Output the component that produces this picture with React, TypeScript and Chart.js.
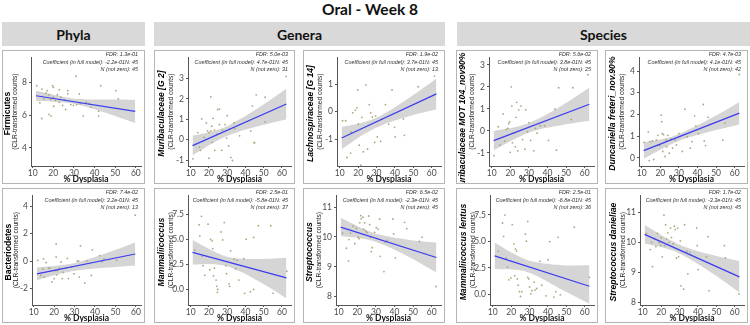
import React, { useEffect, useRef } from 'react';
import { Chart, registerables } from 'chart.js';
Chart.register(...registerables);

const SANS = '"Liberation Sans", Arial, sans-serif';
const CAL = 'Lato, "Open Sans", sans-serif';

const xTickLabels = ['10', '20', '30', '40', '50', '60'];

// ---- Phyla: Firmicutes
const firmX = [12, 14.5, 13.5, 14.4, 15.5, 16.5, 17, 18, 18.9, 19.7, 20, 20, 20.2, 18, 18.9, 21, 22, 22.9, 22.9, 23.7, 24.5, 25.3, 27, 27, 26, 28.5, 29.8, 31, 31.3, 32.6, 33, 34.5, 36, 37.4, 38.2, 42, 43, 42, 50.3, 51.5];
const firmY = [7.8, 7.6, 6.75, 5.8, 7.0, 7.35, 7.5, 7.25, 6.95, 7.8, 7.7, 7.1, 6.55, 6.05, 5.95, 6.9, 7.25, 7.55, 6.8, 7.1, 6.6, 6.95, 7.5, 7.3, 6.35, 6.65, 6.6, 8.38, 6.65, 7.3, 6.7, 5.95, 6.8, 6.7, 6.5, 6.25, 7.8, 5.95, 7.5, 7.0];
const firmLine = [7.19, 6.24];
const firmUp = [7.49, 7.15, 6.99, 6.96, 6.95];
const firmLo = [6.89, 6.79, 6.61, 6.08, 5.53];
const firmTicks = ['4', '6', '8'];

// ---- Phyla: Bacteriodetes
const bactX = [12, 13.5, 14.5, 14.8, 16.1, 15.2, 17.3, 18, 18.9, 20, 20.5, 21, 21, 21.3, 21.6, 22.6, 23.4, 24, 24.5, 25.8, 26.5, 27, 28.5, 29.7, 31.3, 32, 32.9, 32.3, 35, 36, 38.2, 38.7, 42.3, 43.4, 44.4, 50.6, 59.7];
const bactY = [0.05, -1.05, -0.58, 0.16, -0.12, -1.17, -0.51, -0.51, -1.52, -1.28, -0.7, 1.24, 0.3, -1.0, -0.7, -0.51, -0.07, -1.28, -0.82, -0.51, 0.19, -1.28, -0.42, -0.93, 0, 0, 1.1, -1.17, -1.59, 0, -1.05, 0.82, 0.4, -0.05, 0.16, 0.05, 3.34];
const bactLine = [-0.93, 0.51];
const bactUp = [-0.47, -0.29, -0.03, 0.65, 1.35];
const bactLo = [-1.4, -0.89, -0.65, -0.47, -0.33];
const bactTicks = ['-2', '0', '2', '4'];

// ---- Genera: Muribaculaceae [G 2]
const muriX = [11.2, 13.9, 14.8, 15.3, 16, 17.4, 18.6, 19.2, 20, 20, 21, 21, 21.5, 21.8, 22.3, 23, 23.2, 24.4, 24.8, 25.7, 25.8, 27, 27.4, 28.8, 29.7, 30, 30.8, 32, 32.9, 33.8, 34.1, 36.8, 42.9, 43.8, 44.7, 45, 45.9, 50.8, 50.8, 62.3];
const muriY = [-0.94, 0.35, -0.36, -0.52, 1.02, 0.11, 0.82, 0.43, -0.91, 0.35, 0.43, 2.11, 0.66, -0.13, 1.05, 0.47, -0.52, 0.27, 1.48, 0.74, 1.5, -0.52, 0.47, 0.74, 0.08, 1.18, -0.31, -0.87, -1.02, 0.82, 0.55, 0.19, 0.43, 1.65, -0.13, -0.16, 2.2, 0.87, 2.08, 3.1];
const muriLine = [-0.29, 1.75];
const muriUp = [0.19, 0.46, 0.81, 1.62, 2.5];
const muriLo = [-0.77, -0.08, 0.29, 0.68, 1.0];
const muriTicks = ['-1', '0', '1', '2', '3'];

// ---- Genera: Lachnospiraceae [G 14]
const lachX = [11.5, 13.2, 13.9, 15.9, 16.2, 17.1, 18.5, 19.4, 19.8, 20.1, 20.6, 21.5, 22, 22.8, 24.2, 25.1, 26, 26.8, 27.7, 29, 29.5, 30.4, 32.2, 33, 34.8, 36.6, 38.4, 39.8, 40.1, 44.6, 45.1, 52.6, 61.4];
const lachY = [-0.33, -0.33, -1.67, -1.51, -0.75, -0.04, 0.06, 0.14, 0.79, -0.45, -1.22, -1.95, -0.21, -1.46, 0.97, -1.36, 0.26, -0.04, -0.19, -1.12, -0.15, -0.92, -1.08, -0.27, 0.26, -0.45, 0.79, -0.57, -0.92, -0.27, -0.86, 0.91, 1.3];
const lachLine = [-0.96, 0.65];
const lachUp = [-0.56, -0.37, -0.11, 0.52, 1.21];
const lachLo = [-1.37, -0.79, -0.49, -0.16, 0.09];
const lachTicks = ['-1', '0', '1'];

// ---- Species: Muribaculaceae MOT 104_nov90%
const motX = [11.2, 13.5, 14.4, 16.1, 17, 17.8, 18.7, 19.1, 19.6, 19.9, 20.5, 20.8, 21.1, 21.7, 22.7, 23.1, 23.4, 24, 24.5, 25.7, 26.6, 27.8, 28.3, 29.2, 30, 30.9, 32.6, 33.5, 34.4, 36.1, 38.4, 40.5, 44, 44.8, 46, 53.6, 52.7, 61.7];
const motY = [-1.12, 0.19, -0.64, 0.77, -0.46, 0.07, 0.12, 0.33, 0.41, -0.97, 2.0, 1.13, -0.54, -0.1, -0.72, 0.62, 1.3, -0.9, 0.96, 1.13, -0.39, -0.83, 0.96, -0.03, 0.38, -0.43, -0.9, 0.12, -0.1, 0.23, 0.23, -0.43, 0.99, -0.87, 1.96, 1.96, 0.52, 2.55];
const motLine = [-0.44, 1.21];
const motUp = [0.0, 0.2, 0.47, 1.17, 1.96];
const motLo = [-0.88, -0.3, 0.01, 0.27, 0.46];
const motTicks = ['-1', '0', '1', '2', '3'];

// ---- Species: Duncaniella freteri_nov.90%
const duncX = [11.2, 13.5, 14.4, 15.7, 14, 16.4, 17.8, 18.7, 19.6, 20.5, 20.8, 21, 21.3, 21.7, 22.5, 23.1, 23.4, 24, 24.8, 25.7, 26.6, 28, 28.6, 30, 31.8, 33.2, 34.4, 36.1, 37, 38.4, 39.1, 40.5, 43.1, 43.6, 44.3, 45.7, 53.6, 54.8, 62.5];
const duncY = [0.72, 1.19, 0.75, 0.78, -0.12, -0.07, 0.82, 1.04, 0.57, 1.97, 1.67, 1.12, 0.3, 1.07, 0.07, 0.82, 0.52, 1.04, 0.22, 0.87, 0.45, 0.82, 0.6, 1.12, 0.3, 2.24, 0.97, 0.45, 0.75, 1.94, 1.46, 1.12, 2.46, 0.78, 0.57, 1.87, 0.82, 1.6, 3.84];
const duncLine = [0.34, 2.06];
const duncUp = [0.72, 0.93, 1.22, 1.86, 2.58];
const duncLo = [-0.04, 0.55, 0.88, 1.24, 1.54];
const duncTicks = ['0', '1', '2', '3', '4'];

// ---- Genera: Mammaliicoccus
const mammX = [12.3, 14.6, 15, 15.9, 16.3, 16.8, 17.7, 19.5, 20.4, 20.9, 21.8, 22.1, 22.5, 23, 23.9, 24.3, 24.8, 24.6, 26.6, 27.5, 28.4, 29.3, 29.6, 31, 31.4, 31.9, 33.8, 34.6, 35.5, 36.4, 39.1, 39.6, 40.4, 42.7, 44.5, 44.5, 47.1, 53.9, 55.2, 62.7];
const mammY = [3.95, 6.46, 5.33, 7.3, 3.32, 2.38, 1.41, 6.52, 1.97, 5.0, 4.86, 4.08, 1.35, 2.13, 0.94, 0.31, 0.0, -0.28, 5.74, 4.95, 6.68, 2.38, 1.57, 0.56, 0.31, 3.86, 3.01, 2.07, 2.92, 0.94, 3.07, -0.38, 5.02, -0.22, 0.0, 5.2, 6.36, 6.36, -0.38, 1.82];
const mammLine = [3.7, 1.15];
const mammUp = [4.93, 3.7, 3.17, 3.05, 3.17];
const mammLo = [2.47, 2.5, 2.13, 0.75, -0.87];
const mammTicks = ['0.0', '2.5', '5.0', '7.5'];

// ---- Genera: Streptococcus
const streX = [12, 14.1, 15.2, 15.5, 16.3, 17.7, 18.6, 19.5, 20.4, 20.9, 21.3, 21.8, 22.1, 23, 23.4, 23.9, 24.5, 25.2, 26.1, 26.6, 27.1, 27.5, 28, 29.3, 30.2, 31.1, 32, 32.3, 34.3, 35, 36.1, 39.1, 39.5, 40.5, 45.4, 46.6, 53.4, 54.8, 62.3];
const streY = [10.13, 9.62, 9.19, 9.91, 10.13, 10.36, 9.78, 10.29, 9.99, 9.94, 10.47, 10.71, 10.61, 10.66, 10.26, 10.47, 10.2, 10.15, 10.7, 10.41, 9.99, 9.51, 9.64, 10.15, 10.31, 10.26, 10.6, 9.35, 8.84, 9.83, 9.88, 10.6, 10.1, 9.3, 10.49, 10.28, 9.85, 9.99, 8.34];
const streLine = [10.33, 9.31];
const streUp = [10.64, 10.25, 10.06, 9.9, 9.81];
const streLo = [10.03, 9.93, 9.76, 9.32, 8.81];
const streTicks = ['8', '9', '10', '11'];

// ---- Species: Mammaliicoccus lentus
const lentX = [13, 15.3, 15.9, 16.6, 17.3, 18, 18.7, 19.8, 20.6, 21.5, 21.9, 22.4, 22.9, 23.3, 23.8, 24.5, 25.1, 25.9, 27.7, 28.3, 29, 29, 29.5, 30, 30.7, 31.3, 32.5, 33, 33.9, 35.7, 36.6, 38.9, 40.1, 41, 43.2, 44.2, 45.5, 46.7, 54.3, 62.5];
const lentY = [4.08, 6.74, 5.47, 7.49, 3.41, 2.57, 1.36, 1.54, 6.59, 4.77, 1.75, 4.26, 4.08, 1.45, 0.85, 0.24, -0.21, 0.24, 5.68, 5.02, 6.89, 1.6, 1.45, 0.69, 0.03, 0.33, 1.15, 0.39, 0.54, 3.11, 0.85, -0.15, 3.26, 4.98, -0.27, 0.24, 5.38, -0.06, 6.34, 1.6];
const lentLine = [3.63, 0.75];
const lentUp = [4.89, 3.59, 3.04, 2.75, 2.75];
const lentLo = [2.38, 2.29, 1.8, 0.4, -0.9];
const lentTicks = ['0.0', '2.5', '5.0', '7.5'];

// ---- Species: Streptococcus danieliae
const daniX = [12, 14.1, 14.8, 15.3, 16.2, 17.1, 18, 18.9, 19.8, 20.1, 20.6, 21.5, 21.9, 22.4, 22.9, 23.6, 24.2, 25.1, 25.6, 26.5, 27.2, 27.7, 28.3, 29, 29.5, 30.4, 30.7, 32.2, 32.7, 33.9, 34.5, 35.7, 39.3, 39.6, 40.1, 44.6, 45.5, 46, 54.3, 54.9, 62.3];
const daniY = [10.3, 9.76, 10.0, 9.19, 10.13, 9.86, 10.3, 10.0, 9.91, 10.16, 9.52, 10.91, 9.89, 10.59, 10.11, 10.32, 10.0, 10.48, 10.16, 9.95, 10.54, 10.43, 9.48, 10.48, 9.52, 10.05, 8.55, 8.44, 10.59, 9.7, 8.95, 9.66, 10.48, 9.89, 9.09, 9.52, 10.19, 8.39, 9.89, 9.48, 8.28];
const daniLine = [10.27, 8.85];
const daniUp = [10.58, 10.11, 9.85, 9.58, 9.38];
const daniLo = [9.96, 9.77, 9.53, 8.96, 8.33];
const daniTicks = ['8', '9', '10', '11'];

const phylaLineX = [11.6, 59.7];
const phylaBandX = [11.6, 24, 33, 47, 59.7];
const otherLineX = [11, 62.5];
const otherBandX = [11, 24, 33, 48, 62.5];

type PanelDef = {
  col: number; row: number; axisLeft: number; titleShift?: number;
  title: string; italic: boolean; notes: string[];
  xs: number[]; ys: number[]; lineX: number[]; lineY: number[];
  bandX: number[]; up: number[]; lo: number[];
  yTicks: string[]; yMin: number; yMax: number; xMin: number; xMax: number;
};

const COLS = [
  { x: 2, w: 143 }, { x: 154, w: 141 }, { x: 303, w: 142 }, { x: 456, w: 142 }, { x: 605, w: 143 },
];
const ROWS = [{ y: 50, h: 134 }, { y: 188, h: 135 }];

const note = (fdr: string, coef: string, nz: string) => [
  'FDR: ' + fdr,
  'Coefficient (in full model): ' + coef + 'N: 45',
  'N (not zero): ' + nz,
];

const PANELS: PanelDef[] = [
  { col: 0, row: 0, axisLeft: 29, title: 'Firmicutes', italic: false, notes: note('1.3e-01', '-2.2e-01', '45'),
    xs: firmX, ys: firmY, lineX: phylaLineX, lineY: firmLine, bandX: phylaBandX, up: firmUp, lo: firmLo,
    yTicks: firmTicks, yMin: 2.9, yMax: 9.55, xMin: 9.2, xMax: 62.5 },
  { col: 0, row: 1, axisLeft: 30, title: 'Bacteriodetes', italic: false, notes: note('7.4e-02', '3.2e-01', '13'),
    xs: bactX, ys: bactY, lineX: phylaLineX, lineY: bactLine, bandX: phylaBandX, up: bactUp, lo: bactLo,
    yTicks: bactTicks, yMin: -3.2, yMax: 4.8, xMin: 9.2, xMax: 62.5 },
  { col: 1, row: 0, axisLeft: 34, title: 'Muribaculaceae [G 2]', italic: true, notes: note('5.0e-03', '4.7e-01', '31'),
    xs: muriX, ys: muriY, lineX: otherLineX, lineY: muriLine, bandX: otherBandX, up: muriUp, lo: muriLo,
    yTicks: muriTicks, yMin: -1.29, yMax: 4.05, xMin: 8.5, xMax: 65 },
  { col: 2, row: 0, axisLeft: 34, title: 'Lachnospiraceae [G 14]', italic: true, notes: note('1.9e-02', '3.7e-01', '13'),
    xs: lachX, ys: lachY, lineX: otherLineX, lineY: lachLine, bandX: otherBandX, up: lachUp, lo: lachLo,
    yTicks: lachTicks, yMin: -1.98, yMax: 1.99, xMin: 8.5, xMax: 65 },
  { col: 3, row: 0, axisLeft: 33, titleShift: 9, title: 'Muribaculaceae MOT 104_nov90%', italic: true, notes: note('5.6e-02', '3.8e-01', '25'),
    xs: motX, ys: motY, lineX: otherLineX, lineY: motLine, bandX: otherBandX, up: motUp, lo: motLo,
    yTicks: motTicks, yMin: -1.59, yMax: 3.35, xMin: 8.5, xMax: 65 },
  { col: 4, row: 0, axisLeft: 34, title: 'Duncaniella freteri_nov.90%', italic: true, notes: note('4.7e-03', '4.1e-01', '42'),
    xs: duncX, ys: duncY, lineX: otherLineX, lineY: duncLine, bandX: otherBandX, up: duncUp, lo: duncLo,
    yTicks: duncTicks, yMin: -0.37, yMax: 4.64, xMin: 8.5, xMax: 65 },
  { col: 1, row: 1, axisLeft: 34, title: 'Mammaliicoccus', italic: true, notes: note('2.5e-01', '-5.8e-01', '37'),
    xs: mammX, ys: mammY, lineX: otherLineX, lineY: mammLine, bandX: otherBandX, up: mammUp, lo: mammLo,
    yTicks: mammTicks, yMin: -1.55, yMax: 9.42, xMin: 8.5, xMax: 65 },
  { col: 2, row: 1, axisLeft: 33, title: 'Streptococcus', italic: true, notes: note('6.5e-02', '-2.3e-01', '45'),
    xs: streX, ys: streY, lineX: otherLineX, lineY: streLine, bandX: otherBandX, up: streUp, lo: streLo,
    yTicks: streTicks, yMin: 7.72, yMax: 11.4, xMin: 8.5, xMax: 65 },
  { col: 3, row: 1, axisLeft: 34, title: 'Mammaliicoccus lentus', italic: true, notes: note('2.5e-01', '-6.8e-01', '36'),
    xs: lentX, ys: lentY, lineX: otherLineX, lineY: lentLine, bandX: otherBandX, up: lentUp, lo: lentLo,
    yTicks: lentTicks, yMin: -1.02, yMax: 9.38, xMin: 8.5, xMax: 65 },
  { col: 4, row: 1, axisLeft: 35, title: 'Streptococcus danieliae', italic: true, notes: note('1.7e-02', '-3.3e-01', '45'),
    xs: daniX, ys: daniY, lineX: otherLineX, lineY: daniLine, bandX: otherBandX, up: daniUp, lo: daniLo,
    yTicks: daniTicks, yMin: 7.91, yMax: 11.58, xMin: 8.5, xMax: 65 },
];

function Panel({ p }: { p: PanelDef }) {
  const ref = useRef<HTMLCanvasElement | null>(null);
  const c = COLS[p.col];
  const r = ROWS[p.row];
  useEffect(() => {
    const canvas = ref.current;
    if (!canvas) return;
    const pts = p.xs.map((x, i) => ({ x, y: p.ys[i] }));
    const line = p.lineX.map((x, i) => ({ x, y: p.lineY[i] }));
    const up = p.bandX.map((x, i) => ({ x, y: p.up[i] }));
    const lo = p.bandX.map((x, i) => ({ x, y: p.lo[i] }));
    const deco = {
      id: 'deco',
      afterDraw(chart: any) {
        const { ctx, chartArea } = chart;
        const cy = (chartArea.top + chartArea.bottom) / 2 + 2;
        const mainX = p.axisLeft - (p.col === 0 ? 23 : 26);
        const subX = p.axisLeft - (p.col === 0 ? 16 : 17);
        ctx.save();
        ctx.fillStyle = '#000';
        ctx.textAlign = 'center';
        ctx.textBaseline = 'middle';
        ctx.translate(mainX, cy + (p.titleShift || 0));
        ctx.rotate(-Math.PI / 2);
        ctx.font = (p.italic ? 'italic ' : '') + 'bold 8.6px ' + SANS;
        ctx.fillText(p.title, 0, 0);
        ctx.restore();
        ctx.save();
        ctx.fillStyle = '#222';
        ctx.textAlign = 'center';
        ctx.textBaseline = 'middle';
        ctx.translate(subX, cy - 2);
        ctx.rotate(-Math.PI / 2);
        ctx.font = '6.6px ' + SANS;
        ctx.fillText('(CLR-transformed counts)', 0, 0);
        ctx.restore();
        ctx.save();
        ctx.fillStyle = '#333';
        ctx.textAlign = 'right';
        ctx.textBaseline = 'middle';
        ctx.font = 'italic 5.4px ' + SANS;
        p.notes.forEach((t, i) => ctx.fillText(t, chart.width - 7, 4.5 + i * 7.6));
        ctx.restore();
      },
    };
    const tickFont = { family: CAL, size: 8.5 };
    const chart = new Chart(canvas, {
      type: 'scatter',
      data: {
        datasets: [
          { data: up, showLine: true, borderWidth: 0, borderColor: 'rgba(0,0,0,0)', pointRadius: 0, fill: '+1', backgroundColor: 'rgba(185,185,185,0.6)', tension: 0.4, order: 3 } as any,
          { data: lo, showLine: true, borderWidth: 0, borderColor: 'rgba(0,0,0,0)', pointRadius: 0, fill: false, tension: 0.4, order: 4 } as any,
          { data: line, showLine: true, borderColor: '#3b3bf0', borderWidth: 1.2, pointRadius: 0, order: 1 } as any,
          { data: pts, pointRadius: 0.9, backgroundColor: '#a8a87e', borderWidth: 0, order: 2 } as any,
        ],
      },
      options: {
        responsive: false,
        animation: false,
        events: [],
        layout: { padding: { top: 3, right: 2, left: 0, bottom: 0 } },
        plugins: { legend: { display: false }, tooltip: { enabled: false } },
        scales: {
          x: {
            type: 'linear', min: p.xMin, max: p.xMax,
            afterBuildTicks: (s: any) => { s.ticks = xTickLabels.map((t) => ({ value: Number(t) })); },
            afterFit: (s: any) => { s.height = 18; },
            ticks: { callback: (_v: any, i: number) => xTickLabels[i], font: tickFont, color: '#4d4d4d', padding: 0, maxRotation: 0, autoSkip: false },
            grid: { display: true, drawOnChartArea: false, drawTicks: true, tickLength: 2, color: '#555' },
            border: { display: true, color: '#555', width: 1 },
            title: { display: true, text: '% Dysplasia', font: { family: CAL, size: 8.5, weight: 'bold' }, color: '#111', padding: { top: 0, bottom: 0 } },
          },
          y: {
            type: 'linear', min: p.yMin, max: p.yMax,
            afterBuildTicks: (s: any) => { s.ticks = p.yTicks.map((t) => ({ value: Number(t) })); },
            afterFit: (s: any) => { s.width = p.axisLeft; },
            ticks: { callback: (_v: any, i: number) => p.yTicks[i], font: tickFont, color: '#4d4d4d', padding: 2, autoSkip: false },
            grid: { display: true, drawOnChartArea: false, drawTicks: true, tickLength: 2, color: '#555' },
            border: { display: true, color: '#555', width: 1 },
          },
        },
      } as any,
      plugins: [deco],
    });
    return () => chart.destroy();
  }, []);
  return (
    <div style={{ position: 'absolute', left: c.x, top: r.y, width: c.w, height: r.h }}>
      <canvas ref={ref} width={c.w} height={r.h} style={{ display: 'block' }} />
      <div style={{ position: 'absolute', left: 0, top: 0, width: c.w, height: r.h, boxSizing: 'border-box', border: '1px solid #b5b5b5', pointerEvents: 'none' }} />
    </div>
  );
}

const headerStyle = (left: number, width: number): React.CSSProperties => ({
  position: 'absolute', left, top: 22, width, height: 24, background: '#d9d9d9',
  display: 'flex', alignItems: 'center', justifyContent: 'center',
  font: 'bold 14px ' + CAL, color: '#111',
});

export default function App() {
  return (
    <div style={{ position: 'fixed', left: 0, top: 0, width: 750, height: 325, background: '#fff', overflow: 'hidden' }}>
      <div style={{ position: 'absolute', left: 0, top: 0, width: 740, textAlign: 'center', font: 'bold 15.5px ' + CAL, color: '#111', lineHeight: '18px' }}>
        Oral - Week 8
      </div>
      <div style={headerStyle(2, 143)}>Phyla</div>
      <div style={headerStyle(154, 291)}>Genera</div>
      <div style={headerStyle(457, 293)}>Species</div>
      {PANELS.map((p, i) => <Panel key={i} p={p} />)}
    </div>
  );
}
